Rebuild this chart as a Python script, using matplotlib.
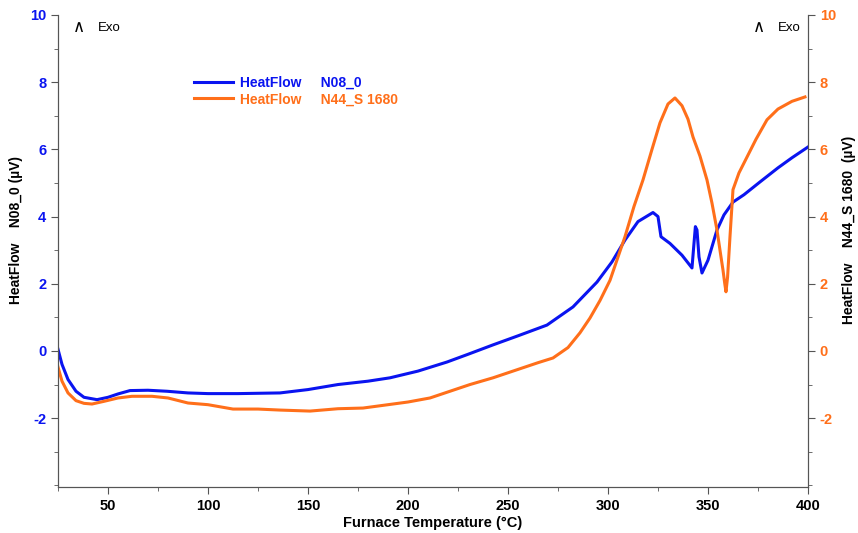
import matplotlib.pyplot as plt
from matplotlib.ticker import MultipleLocator

plt.rcParams['font.family'] = ['Liberation Sans', 'DejaVu Sans']
plt.rcParams['axes.unicode_minus'] = False

# Courbes DSC
blue_temp = [25, 27, 30, 34, 38, 44.5, 50, 55, 61, 70, 79.5, 90, 100, 115, 136, 150,
             165, 180, 191, 205, 219.5, 230, 242.5, 255, 269.5, 282.5, 294.5, 302,
             308.5, 315, 322.5, 325, 326.5, 331, 337, 342, 343, 343.7, 344.5, 345.5,
             347, 350, 354.5, 358, 362.5, 368, 376, 385, 392, 400]
blue_flow = [0.05, -0.4, -0.85, -1.2, -1.38, -1.45, -1.38, -1.28, -1.18, -1.17, -1.2,
             -1.25, -1.27, -1.27, -1.25, -1.15, -1.0, -0.9, -0.8, -0.6, -0.33, -0.1,
             0.18, 0.45, 0.77, 1.31, 2.05, 2.65, 3.3, 3.85, 4.12, 4.0, 3.4, 3.2, 2.85,
             2.47, 3.2, 3.7, 3.6, 2.8, 2.32, 2.7, 3.6, 4.05, 4.43, 4.65, 5.03, 5.45,
             5.75, 6.07]

orange_temp = [25, 27, 30, 34, 38, 42, 48, 55, 62, 72, 80, 90, 100, 112.5, 125, 136,
               151, 165, 177.5, 190, 200, 211, 221, 231, 242.5, 255, 265, 272.5, 280,
               286, 291, 296, 301, 308.5, 313, 317.5, 322, 326, 330, 333.5, 337, 340,
               342.5, 346, 349.5, 352, 354.5, 356.5, 357.5, 358.4, 359, 359.8, 361,
               362.5, 365.5, 369.5, 374, 379.5, 385, 392, 398.5]
orange_flow = [-0.48, -0.9, -1.25, -1.48, -1.56, -1.58, -1.5, -1.4, -1.35, -1.35, -1.4,
               -1.55, -1.6, -1.73, -1.73, -1.76, -1.79, -1.72, -1.7, -1.6, -1.52, -1.4,
               -1.2, -1.0, -0.8, -0.55, -0.35, -0.21, 0.1, 0.54, 0.98, 1.5, 2.1, 3.4,
               4.3, 5.09, 6.0, 6.79, 7.35, 7.53, 7.3, 6.9, 6.37, 5.8, 5.09, 4.4, 3.6,
               2.8, 2.41, 2.0, 1.76, 2.2, 3.4, 4.8, 5.3, 5.77, 6.3, 6.88, 7.2, 7.43,
               7.56]

blue = '#0A14F0'
orange = '#FF6F1A'

fig = plt.figure(figsize=(8.58, 5.33), dpi=100)
ax = fig.add_axes([0.0676, 0.0863, 0.8741, 0.8856])
ax2 = ax.twinx()

l1, = ax.plot(blue_temp, blue_flow, color=blue, lw=2.2)
l2, = ax2.plot(orange_temp, orange_flow, color=orange, lw=2.2)

for a in (ax, ax2):
    a.set_xlim(25, 400)
    a.set_ylim(-4.05, 10)
    a.spines['top'].set_visible(False)
    a.yaxis.set_major_locator(MultipleLocator(2))
    a.yaxis.set_minor_locator(MultipleLocator(1))
    for s in ('left', 'right', 'bottom'):
        a.spines[s].set_color('#555555')

ax.xaxis.set_major_locator(MultipleLocator(50))
ax.xaxis.set_minor_locator(MultipleLocator(25))
ax.set_xticks([50, 100, 150, 200, 250, 300, 350, 400])

ax.tick_params(axis='x', which='major', length=5, labelsize=10.5, colors='#555555',
               labelcolor='black')
ax.tick_params(axis='x', which='minor', length=3, colors='#555555')
ax.tick_params(axis='y', which='major', length=5, labelsize=10.5, colors='#555555',
               labelcolor=blue)
ax.tick_params(axis='y', which='minor', length=3, colors='#555555')
ax2.tick_params(axis='y', which='major', length=5, labelsize=10.5, colors='#555555',
                labelcolor=orange)
ax2.tick_params(axis='y', which='minor', length=3, colors='#555555')

ax.set_yticks([-2, 0, 2, 4, 6, 8, 10])
ax2.set_yticks([-2, 0, 2, 4, 6, 8, 10])

for lab in ax.get_xticklabels() + ax.get_yticklabels() + ax2.get_yticklabels():
    lab.set_fontweight('bold')

ax.set_xlabel('Furnace Temperature (°C)', fontsize=10.5, fontweight='bold', labelpad=2)
ax.set_ylabel('HeatFlow    N08_0 (µV)', fontsize=10, fontweight='bold')
ax2.set_ylabel('HeatFlow    N44_S 1680  (µV)', fontsize=10, fontweight='bold')
ax.yaxis.set_label_coords(-0.047, 0.545)
ax2.yaxis.set_label_coords(1.046, 0.545)

# Indicateurs Exo
ax.text(0.02, 0.975, '∧', transform=ax.transAxes, fontsize=12, ha='left', va='center',
        family='DejaVu Sans')
ax.text(0.053, 0.972, 'Exo', transform=ax.transAxes, fontsize=9.5, ha='left', va='center')
ax.text(0.927, 0.975, '∧', transform=ax.transAxes, fontsize=12, ha='left', va='center',
        family='DejaVu Sans')
ax.text(0.96, 0.972, 'Exo', transform=ax.transAxes, fontsize=9.5, ha='left', va='center')

leg = ax.legend([l1, l2], ['HeatFlow     N08_0', 'HeatFlow     N44_S 1680'],
                loc='upper left', bbox_to_anchor=(0.172, 0.885), frameon=False,
                handlelength=2.8, handletextpad=0.5, labelspacing=0.15, borderpad=0,
                prop={'weight': 'bold', 'size': 10})
for txt, c in zip(leg.get_texts(), (blue, orange)):
    txt.set_color(c)

plt.savefig('out.png', dpi=100)
